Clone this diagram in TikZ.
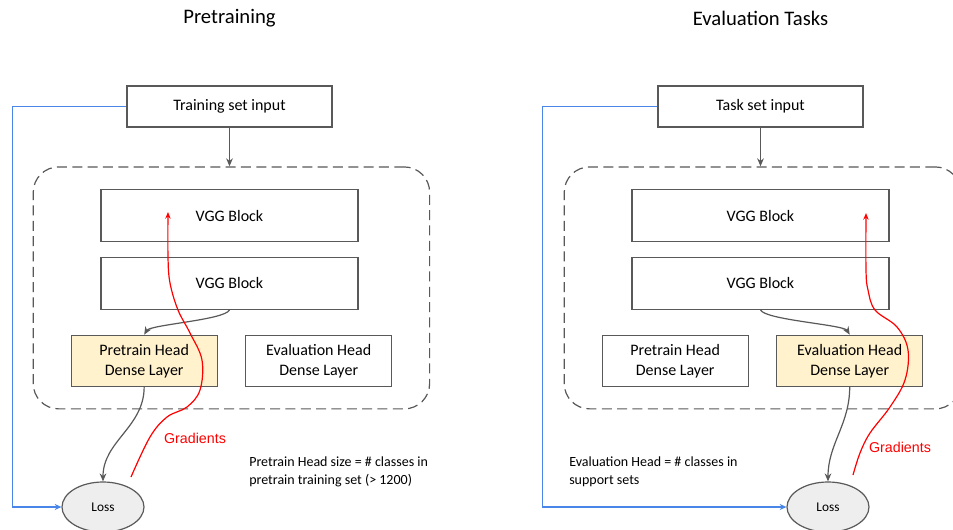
\documentclass[tikz,border=0pt]{standalone}
\usepackage{fontspec}
\setmainfont{Carlito}
\newfontfamily\arialfont{Liberation Sans}
\usepackage{tikz}
\usetikzlibrary{arrows.meta, positioning, shapes.geometric, fit}
\definecolor{linegray}{HTML}{595959}
\definecolor{headyellow}{HTML}{FFF2CC}
\definecolor{lossgray}{HTML}{EEEEEE}
\definecolor{feedblue}{HTML}{4A86E8}
\definecolor{gradred}{HTML}{FF0000}

\begin{document}
\begin{tikzpicture}[x=0.75pt, y=0.75pt,
  every node/.style={align=center},
  title/.style={font=\fontsize{15.5}{18}\selectfont},
  box/.style={draw=linegray, line width=0.9pt, fill=white,
              font=\fontsize{12}{15}\selectfont, inner sep=0pt},
  inbox/.style={box, minimum width=153.75pt, minimum height=30.75pt},
  vgg/.style={box, minimum width=192.75pt, minimum height=39pt},
  head/.style={box, minimum width=109.5pt, minimum height=38.25pt},
  chosen/.style={fill=headyellow},
  loss/.style={ellipse, draw=linegray, line width=0.9pt, fill=lossgray,
               minimum width=61.5pt, minimum height=37.5pt,
               font=\fontsize{10}{12}\selectfont},
  dashframe/.style={draw=linegray, line width=0.9pt, dash pattern=on 7.5pt off 4pt,
                    rounded corners=19pt, inner xsep=28pt, inner ysep=16.5pt},
  arr/.style={draw=linegray, line width=0.9pt, -{Stealth[length=6pt, width=5pt]}},
  feed/.style={draw=feedblue, line width=1pt, -{Stealth[length=5pt, width=4.5pt]}},
  grad/.style={draw=gradred, line width=0.9pt, -{Stealth[length=5pt, width=4pt]}},
  gradlbl/.style={font=\arialfont\fontsize{10.7}{13}\selectfont, text=gradred},
  note/.style={font=\fontsize{10.5}{13.5}\selectfont, align=left, anchor=west, inner sep=0pt}
]
  \useasboundingbox (0,0) rectangle (953,-529);
  \fill[white] (0,0) rectangle (953,-529);

  % pretraining side
  \node[title] (ttlL) at (229.5,-18) {Pretraining};
  \node[inbox] (inL) at (229.5,-106.5) {Training set input};
  \node[vgg, below=46pt of inL] (vggL1) {VGG Block};
  \node[vgg, below=11pt of vggL1] (vggL2) {VGG Block};
  \node[head, chosen, below=18.5pt of vggL2, xshift=-64pt] (ptL) {Pretrain Head\\Dense Layer};
  \node[head, right=20.5pt of ptL] (evL) {Evaluation Head\\Dense Layer};
  \node[dashframe, fit=(vggL1)(ptL)(evL)] (netL) {};
  \node[loss] (lossL) at (103,-507) {Loss};
  \node[gradlbl] (gradtxtL) at (195,-438) {Gradients};
  \node[note] (noteL) at (249,-472) {Pretrain Head size = \# classes in\\pretrain training set (> 1200)};

  \draw[arr] (inL.south) -- (inL.south |- netL.north);
  \draw[arr] (vggL2.south) .. controls +(-5,-10) and +(6,10) .. (ptL.north);
  \draw[arr] (ptL.south) to[out=-90, in=90] (lossL.north);
  \draw[feed] (inL.west) -- ++(-114,0) |- (lossL.west);
  \coordinate (gsL) at (131,-477);
  \coordinate (geL) at (168,-212);
  \draw[grad] plot[smooth, tension=0.6] coordinates {(gsL) (150,-437) (167,-417) (187,-407)
    (200,-390) (202,-360) (190,-333) (178,-310) (170,-283) (168,-257) (geL)};

  % evaluation side
  \node[title] (ttlR) at (760.5,-18) {Evaluation Tasks};
  \node[inbox] (inR) at (760.5,-106.5) {Task set input};
  \node[vgg, below=46pt of inR] (vggR1) {VGG Block};
  \node[vgg, below=11pt of vggR1] (vggR2) {VGG Block};
  \node[head, below=18.5pt of vggR2, xshift=-64pt] (ptR) {Pretrain Head\\Dense Layer};
  \node[head, chosen, right=20.5pt of ptR] (evR) {Evaluation Head\\Dense Layer};
  \node[dashframe, fit=(vggR1)(ptR)(evR)] (netR) {};
  \node[loss] (lossR) at (828,-507) {Loss};
  \node[gradlbl] (gradtxtR) at (900,-447) {Gradients};
  \node[note] (noteR) at (569,-472) {Evaluation Head = \# classes in\\support sets};

  \draw[arr] (inR.south) -- (inR.south |- netR.north);
  \draw[arr] (vggR2.south) .. controls +(5,-10) and +(-6,10) .. (evR.north);
  \draw[arr] (evR.south) to[out=-90, in=90] (lossR.north);
  \draw[feed] (inR.west) -- ++(-115,0) |- (lossR.west);
  \coordinate (gsR) at (853,-475);
  \coordinate (geR) at (866,-213);
  \draw[grad] plot[smooth, tension=0.6] coordinates {(gsR) (860,-453) (870,-433) (890,-407)
    (905,-380) (908,-350) (897,-327) (875,-310) (868,-290) (866,-270) (geR)};
\end{tikzpicture}
\end{document}
